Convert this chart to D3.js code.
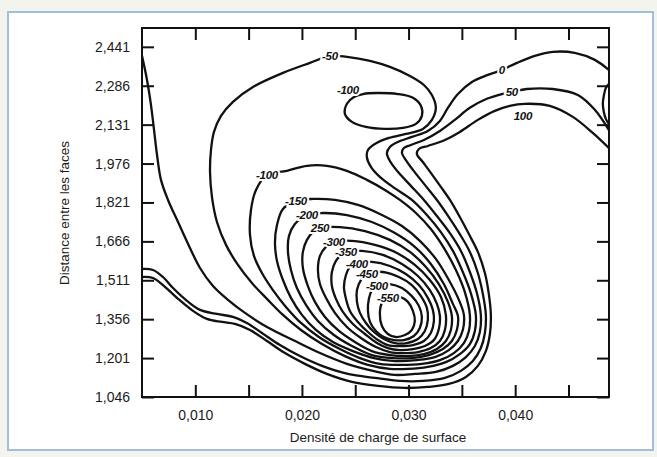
<!DOCTYPE html>
<html lang="fr">
<head>
<meta charset="utf-8">
<title>Distance entre les faces / Densité de charge de surface</title>
<script src="https://cdn.jsdelivr.net/npm/d3@7"></script>
<style>
    body { margin: 0; background: #f4f4ef; }
    #chart { width: 657px; height: 457px; }
    .axis text { font-family: "Liberation Sans", Arial, sans-serif; font-size: 14px; fill: #1b1b1b; }
    .axis line { stroke: #111; stroke-width: 2; }
    .axis path { display: none; }
    .contour { fill: none; stroke: #111; stroke-width: 2.3; }
    .contour-label {
        font-family: "Liberation Sans", Arial, sans-serif; font-size: 11.5px;
        font-weight: bold; font-style: italic; fill: #111; letter-spacing: -0.3px;
        stroke: #fff; stroke-width: 4; paint-order: stroke;
    }
    .axis-title { font-family: "Liberation Sans", Arial, sans-serif; font-size: 13.5px; fill: #1b1b1b; }
</style>
</head>
<body>
<div id="chart"></div>
<script>
// ticks
const xTicks = [0.010, 0.015, 0.020, 0.025, 0.030, 0.035, 0.040, 0.045];
const xLabelTicks = [0.010, 0.020, 0.030, 0.040];
const yTicks = [1.046, 1.201, 1.356, 1.511, 1.666, 1.821, 1.976, 2.131, 2.286, 2.441];

// contour lines, [charge density, distance]
const contourM550 = [[0.02806,1.445],[0.02919,1.445],[0.02994,1.425],[0.03041,1.389],[0.03059,1.349],[0.03031,1.313],[0.02966,1.293],[0.02881,1.285],[0.02806,1.297],[0.02750,1.329],[0.02731,1.377],[0.02750,1.421]];
const contourM500 = [[0.02703,1.492],[0.02825,1.496],[0.02938,1.480],[0.03031,1.448],[0.03097,1.409],[0.03125,1.365],[0.03106,1.321],[0.03050,1.289],[0.02956,1.273],[0.02863,1.273],[0.02769,1.285],[0.02694,1.309],[0.02638,1.345],[0.02619,1.389],[0.02628,1.437],[0.02656,1.472]];
const contourM450 = [[0.02619,1.540],[0.02759,1.544],[0.02909,1.524],[0.03031,1.492],[0.03116,1.448],[0.03172,1.401],[0.03181,1.353],[0.03153,1.309],[0.03088,1.277],[0.02984,1.261],[0.02872,1.261],[0.02769,1.277],[0.02675,1.305],[0.02600,1.341],[0.02544,1.381],[0.02516,1.425],[0.02516,1.472],[0.02553,1.512]];
const contourM400 = [[0.02516,1.580],[0.02656,1.584],[0.02825,1.568],[0.02975,1.536],[0.03097,1.492],[0.03181,1.441],[0.03228,1.393],[0.03238,1.349],[0.03209,1.301],[0.03144,1.269],[0.03041,1.253],[0.02919,1.249],[0.02806,1.253],[0.02713,1.273],[0.02619,1.305],[0.02525,1.345],[0.02450,1.389],[0.02413,1.437],[0.02394,1.484],[0.02413,1.532],[0.02450,1.564]];
const contourM350 = [[0.02403,1.624],[0.02563,1.628],[0.02759,1.612],[0.02938,1.576],[0.03088,1.528],[0.03200,1.472],[0.03266,1.417],[0.03294,1.369],[0.03284,1.317],[0.03238,1.273],[0.03153,1.249],[0.03041,1.237],[0.02919,1.233],[0.02806,1.241],[0.02703,1.261],[0.02591,1.297],[0.02478,1.337],[0.02384,1.385],[0.02319,1.437],[0.02281,1.488],[0.02281,1.544],[0.02319,1.588]];
const contourM300 = [[0.02300,1.664],[0.02469,1.668],[0.02684,1.652],[0.02891,1.620],[0.03059,1.572],[0.03200,1.512],[0.03303,1.445],[0.03350,1.373],[0.03341,1.313],[0.03294,1.269],[0.03209,1.241],[0.03088,1.225],[0.02947,1.221],[0.02825,1.225],[0.02694,1.245],[0.02553,1.281],[0.02422,1.325],[0.02309,1.381],[0.02225,1.441],[0.02169,1.496],[0.02150,1.552],[0.02169,1.608],[0.02225,1.644]];
const contourM250 = [[0.02169,1.719],[0.02356,1.723],[0.02591,1.707],[0.02825,1.672],[0.03013,1.624],[0.03163,1.564],[0.03284,1.496],[0.03369,1.425],[0.03406,1.369],[0.03397,1.313],[0.03350,1.269],[0.03266,1.237],[0.03144,1.217],[0.02994,1.209],[0.02825,1.213],[0.02656,1.229],[0.02497,1.265],[0.02347,1.309],[0.02216,1.365],[0.02122,1.425],[0.02056,1.488],[0.02009,1.560],[0.02009,1.624],[0.02047,1.672],[0.02103,1.703]];
const contourM200 = [[0.02047,1.771],[0.02197,1.779],[0.02422,1.771],[0.02656,1.743],[0.02872,1.699],[0.03059,1.644],[0.03209,1.576],[0.03331,1.496],[0.03416,1.417],[0.03463,1.369],[0.03453,1.313],[0.03406,1.269],[0.03322,1.237],[0.03191,1.213],[0.03031,1.201],[0.02853,1.201],[0.02656,1.213],[0.02469,1.249],[0.02300,1.293],[0.02150,1.349],[0.02038,1.413],[0.01953,1.480],[0.01897,1.552],[0.01869,1.624],[0.01878,1.687],[0.01934,1.735]];
const contourM150 = [[0.01944,1.827],[0.02103,1.835],[0.02309,1.831],[0.02525,1.811],[0.02731,1.775],[0.02938,1.727],[0.03106,1.668],[0.03256,1.596],[0.03378,1.512],[0.03472,1.433],[0.03519,1.373],[0.03509,1.313],[0.03463,1.269],[0.03378,1.233],[0.03247,1.205],[0.03078,1.193],[0.02872,1.189],[0.02675,1.201],[0.02478,1.229],[0.02291,1.265],[0.02131,1.313],[0.02000,1.373],[0.01897,1.441],[0.01822,1.512],[0.01766,1.588],[0.01747,1.660],[0.01766,1.731],[0.01822,1.795]];
const contourM100 = [[0.01672,1.931],[0.01859,1.947],[0.02047,1.967],[0.02234,1.967],[0.02422,1.947],[0.02609,1.911],[0.02778,1.871],[0.02919,1.831],[0.03069,1.779],[0.03209,1.715],[0.03331,1.640],[0.03444,1.552],[0.03528,1.464],[0.03575,1.373],[0.03566,1.309],[0.03519,1.261],[0.03425,1.221],[0.03294,1.193],[0.03125,1.178],[0.02919,1.174],[0.02731,1.178],[0.02544,1.201],[0.02356,1.237],[0.02159,1.285],[0.01991,1.341],[0.01850,1.405],[0.01728,1.472],[0.01625,1.540],[0.01550,1.608],[0.01513,1.691],[0.01522,1.791],[0.01569,1.871]];
const islandM100 = [[0.02572,2.253],[0.02703,2.257],[0.02900,2.253],[0.03041,2.238],[0.03116,2.206],[0.03125,2.166],[0.03069,2.134],[0.02947,2.118],[0.02778,2.114],[0.02600,2.122],[0.02469,2.142],[0.02403,2.174],[0.02422,2.214],[0.02488,2.241]];
const contourM50 = [[0.02263,2.405],[0.02422,2.401],[0.02638,2.385],[0.02825,2.361],[0.03013,2.325],[0.03144,2.289],[0.03219,2.249],[0.03256,2.198],[0.03219,2.150],[0.03134,2.114],[0.02975,2.094],[0.02816,2.078],[0.02684,2.054],[0.02619,2.030],[0.02609,2.002],[0.02647,1.963],[0.02741,1.919],[0.02881,1.875],[0.03031,1.831],[0.03172,1.771],[0.03303,1.703],[0.03416,1.628],[0.03509,1.544],[0.03584,1.460],[0.03631,1.373],[0.03622,1.309],[0.03575,1.257],[0.03481,1.217],[0.03350,1.185],[0.03181,1.166],[0.02994,1.158],[0.02825,1.158],[0.02619,1.174],[0.02403,1.209],[0.02188,1.257],[0.01991,1.313],[0.01822,1.373],[0.01672,1.437],[0.01531,1.500],[0.01400,1.572],[0.01288,1.652],[0.01203,1.743],[0.01156,1.843],[0.01138,1.943],[0.01147,2.030],[0.01175,2.102],[0.01241,2.166],[0.01353,2.222],[0.01541,2.281],[0.01822,2.337],[0.02075,2.377]];
const contourZero = [[0.00500,2.405],[0.00547,2.309],[0.00584,2.210],[0.00613,2.110],[0.00641,2.010],[0.00678,1.911],[0.00744,1.831],[0.00838,1.743],[0.00941,1.648],[0.01044,1.560],[0.01166,1.488],[0.01306,1.433],[0.01466,1.381],[0.01672,1.325],[0.01916,1.273],[0.02169,1.221],[0.02422,1.178],[0.02666,1.150],[0.02872,1.134],[0.03059,1.138],[0.03256,1.146],[0.03416,1.170],[0.03538,1.205],[0.03622,1.249],[0.03669,1.305],[0.03678,1.373],[0.03641,1.460],[0.03575,1.544],[0.03491,1.628],[0.03388,1.699],[0.03266,1.767],[0.03144,1.831],[0.03022,1.887],[0.02900,1.943],[0.02825,1.986],[0.02797,2.018],[0.02825,2.042],[0.02900,2.062],[0.03031,2.082],[0.03181,2.106],[0.03294,2.146],[0.03369,2.198],[0.03463,2.253],[0.03594,2.301],[0.03744,2.329],[0.03875,2.349],[0.04016,2.377],[0.04184,2.405],[0.04353,2.421],[0.04559,2.417],[0.04747,2.389],[0.04878,2.349]];
const contourFifty = [[0.00500,1.556],[0.00603,1.552],[0.00697,1.524],[0.00791,1.480],[0.00922,1.429],[0.01044,1.393],[0.01203,1.377],[0.01353,1.365],[0.01484,1.341],[0.01625,1.301],[0.01794,1.253],[0.01981,1.209],[0.02188,1.170],[0.02431,1.138],[0.02684,1.122],[0.02919,1.110],[0.03134,1.110],[0.03341,1.122],[0.03491,1.150],[0.03603,1.189],[0.03678,1.241],[0.03716,1.301],[0.03725,1.373],[0.03697,1.456],[0.03650,1.540],[0.03575,1.624],[0.03481,1.695],[0.03378,1.763],[0.03266,1.831],[0.03153,1.891],[0.03041,1.951],[0.02975,1.990],[0.02938,2.018],[0.02956,2.038],[0.03022,2.050],[0.03144,2.070],[0.03294,2.106],[0.03434,2.150],[0.03575,2.198],[0.03734,2.234],[0.03875,2.253],[0.03969,2.261],[0.04109,2.273],[0.04353,2.273],[0.04588,2.249],[0.04747,2.190],[0.04878,2.110]];
const contourHundred = [[0.00500,1.524],[0.00603,1.520],[0.00697,1.492],[0.00828,1.441],[0.00978,1.389],[0.01109,1.357],[0.01250,1.345],[0.01372,1.337],[0.01513,1.313],[0.01672,1.269],[0.01841,1.221],[0.02028,1.178],[0.02234,1.138],[0.02469,1.106],[0.02713,1.090],[0.02966,1.082],[0.03181,1.086],[0.03378,1.098],[0.03538,1.126],[0.03650,1.170],[0.03725,1.229],[0.03763,1.297],[0.03772,1.373],[0.03753,1.456],[0.03716,1.540],[0.03650,1.624],[0.03566,1.695],[0.03481,1.763],[0.03388,1.831],[0.03303,1.883],[0.03209,1.939],[0.03134,1.982],[0.03078,2.014],[0.03097,2.034],[0.03181,2.046],[0.03341,2.070],[0.03481,2.102],[0.03650,2.150],[0.03809,2.186],[0.03950,2.206],[0.04091,2.214],[0.04325,2.206],[0.04541,2.162],[0.04728,2.098],[0.04878,2.038]];
const edgeLoop = [[0.04878,2.293],[0.04850,2.277],[0.04831,2.245],[0.04822,2.214],[0.04831,2.182],[0.04850,2.154],[0.04878,2.134]];

// contour labels and where they sit
const labelTexts = ["-50", "-100", "-100", "-150", "-200", "250", "-300", "-350", "-400", "-450", "-500", "-550", "0", "50", "100"];
const labelPoints = [[0.02263,2.405],[0.02431,2.269],[0.01672,1.931],[0.01944,1.827],[0.02047,1.771],[0.02169,1.719],[0.02300,1.664],[0.02413,1.624],[0.02516,1.576],[0.02609,1.536],[0.02703,1.488],[0.02806,1.441],[0.03875,2.349],[0.03969,2.261],[0.04072,2.166]];

class ContourChart {
    constructor(parentElement){
        this.parentElement = parentElement;

        this.contours = [
            {level: -550, points: contourM550, closed: true},
            {level: -500, points: contourM500, closed: true},
            {level: -450, points: contourM450, closed: true},
            {level: -400, points: contourM400, closed: true},
            {level: -350, points: contourM350, closed: true},
            {level: -300, points: contourM300, closed: true},
            {level: -250, points: contourM250, closed: true},
            {level: -200, points: contourM200, closed: true},
            {level: -150, points: contourM150, closed: true},
            {level: -100, points: contourM100, closed: true},
            {level: -100, points: islandM100, closed: true},
            {level: -50, points: contourM50, closed: true},
            {level: 0, points: contourZero, closed: false},
            {level: 50, points: contourFifty, closed: false},
            {level: 100, points: contourHundred, closed: false},
            {level: 50, points: edgeLoop, closed: false}
        ];
        this.labels = labelTexts.map((t, i) => ({text: t, x: labelPoints[i][0], y: labelPoints[i][1]}));

        this.initVis();
    }

    initVis(){
        let vis = this;

        vis.margin = {top: 28, right: 48, bottom: 60, left: 142};
        vis.width = 657 - vis.margin.left - vis.margin.right;
        vis.height = 457 - vis.margin.top - vis.margin.bottom;

        vis.root = d3.select("#" + vis.parentElement).append("svg")
            .attr("width", 657)
            .attr("height", 457);

        // paper + thin blue frame of the scanned page
        vis.root.append("rect")
            .attr("width", 657).attr("height", 457)
            .attr("fill", "#f4f4ef");
        vis.root.append("rect")
            .attr("x", 8).attr("y", 12)
            .attr("width", 645).attr("height", 438)
            .attr("fill", "#ffffff")
            .attr("stroke", "#9fc0d8")
            .attr("stroke-width", 2);

        vis.svg = vis.root.append("g")
            .attr("transform", `translate (${vis.margin.left}, ${vis.margin.top})`);

        vis.svg.append("clipPath")
            .attr("id", "plot-clip")
            .append("rect")
            .attr("width", vis.width)
            .attr("height", vis.height);

        // Scales and Axes
        vis.x = d3.scaleLinear()
            .domain([0.005, 0.0488])
            .range([0, vis.width]);

        vis.y = d3.scaleLinear()
            .domain([1.046, 2.516])
            .range([vis.height, 0]);

        let fr = d3.formatLocale({decimal: ",", thousands: " ", grouping: [3], currency: ["", " €"]});
        vis.fmt = fr.format(".3f");

        vis.xAxis = d3.axisBottom(vis.x)
            .tickValues(xTicks)
            .tickSizeInner(-12).tickSizeOuter(0)
            .tickPadding(13)
            .tickFormat(d => xLabelTicks.includes(d) ? vis.fmt(d) : "");

        vis.xAxisTop = d3.axisTop(vis.x)
            .tickValues(xTicks)
            .tickSizeInner(-12).tickSizeOuter(0)
            .tickFormat("");

        vis.yAxis = d3.axisLeft(vis.y)
            .tickValues(yTicks)
            .tickSizeInner(-12).tickSizeOuter(0)
            .tickPadding(12)
            .tickFormat(vis.fmt);

        vis.yAxisRight = d3.axisRight(vis.y)
            .tickValues(yTicks)
            .tickSizeInner(-12).tickSizeOuter(0)
            .tickFormat("");

        vis.line = d3.line()
            .x(d => vis.x(d[0]))
            .y(d => vis.y(d[1]));

        // axis titles
        vis.root.append("text")
            .attr("class", "axis-title")
            .attr("transform", "translate(64, 213) rotate(-90)")
            .attr("text-anchor", "middle")
            .attr("dy", "0.35em")
            .text("Distance entre les faces");

        vis.root.append("text")
            .attr("class", "axis-title")
            .attr("x", 378)
            .attr("y", 442)
            .attr("text-anchor", "middle")
            .text("Densité de charge de surface");

        this.updateVis();
    }

    updateVis(){
        let vis = this;

        vis.svg.append("g")
            .attr("clip-path", "url(#plot-clip)")
            .selectAll("path")
            .data(vis.contours)
            .enter()
            .append("path")
            .attr("class", "contour")
            .attr("d", d => vis.line.curve(d.closed ? d3.curveCatmullRomClosed.alpha(0.5) : d3.curveCatmullRom.alpha(0.5))(d.points));

        vis.svg.selectAll(".contour-label")
            .data(vis.labels)
            .enter()
            .append("text")
            .attr("class", "contour-label")
            .attr("x", d => vis.x(d.x))
            .attr("y", d => vis.y(d.y))
            .attr("dy", "0.35em")
            .attr("text-anchor", "middle")
            .text(d => d.text);

        vis.svg.append("g")
            .attr("class", "x-axis axis")
            .attr("transform", "translate(0," + vis.height + ")")
            .call(vis.xAxis);

        vis.svg.append("g")
            .attr("class", "x-axis-top axis")
            .call(vis.xAxisTop);

        vis.svg.append("g")
            .attr("class", "y-axis axis")
            .call(vis.yAxis);

        vis.svg.append("g")
            .attr("class", "y-axis-right axis")
            .attr("transform", "translate(" + vis.width + ",0)")
            .call(vis.yAxisRight);

        // plot frame
        vis.svg.append("rect")
            .attr("width", vis.width)
            .attr("height", vis.height)
            .attr("fill", "none")
            .attr("stroke", "#111")
            .attr("stroke-width", 2);
    }
}

new ContourChart("chart");
</script>
</body>
</html>
